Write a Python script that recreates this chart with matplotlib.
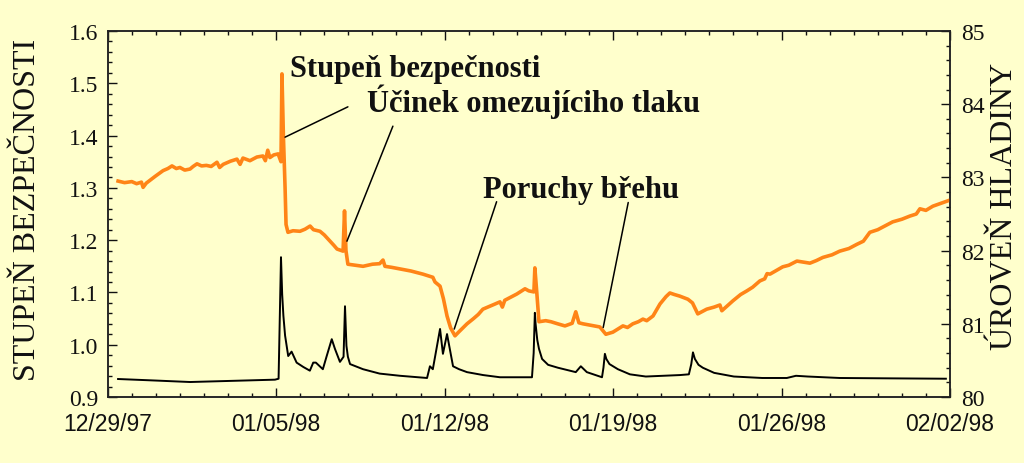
import matplotlib
matplotlib.use("Agg")
import matplotlib.pyplot as plt
import matplotlib.dates as mdates
import matplotlib.transforms as mtransforms
from matplotlib.ticker import MultipleLocator
import pandas as pd

# days counted from 12/29/97
start = pd.Timestamp("1997-12-29")

# stupeň bezpečnosti (left axis)
fs_days = [0.43, 0.70, 1.00, 1.20, 1.40, 1.47, 1.60, 1.97, 2.30, 2.50, 2.67, 2.85, 3.00,
           3.20, 3.42, 3.55, 3.71, 3.90, 4.10, 4.30, 4.54, 4.65, 4.80, 5.10, 5.37, 5.50,
           5.62, 5.91, 6.20, 6.45, 6.55, 6.65, 6.74, 6.90, 7.08, 7.20, 7.24, 7.30, 7.37,
           7.41, 7.49, 7.70, 7.99, 8.20, 8.41, 8.55, 8.82, 9.00, 9.24, 9.40, 9.53, 9.78,
           9.84, 9.90, 9.98, 10.30, 10.61, 11.00, 11.30, 11.44, 11.52, 11.80, 12.15, 12.40,
           12.60, 12.85, 13.10, 13.30, 13.51, 13.60, 13.68, 13.81, 13.95, 14.10, 14.25,
           14.43, 14.60, 14.93, 15.20, 15.40, 15.59, 15.90, 16.10, 16.30, 16.40, 16.50,
           16.71, 17.00, 17.34, 17.50, 17.71, 17.75, 17.83, 17.92, 18.20, 18.42, 18.70,
           19.00, 19.30, 19.45, 19.58, 19.75, 20.10, 20.45, 20.70, 20.99, 21.20, 21.41,
           21.60, 21.82, 22.05, 22.24, 22.40, 22.66, 22.95, 23.20, 23.36, 23.55, 23.77,
           24.11, 24.30, 24.52, 24.89, 25.20, 25.44, 25.52, 25.98, 26.30, 26.56, 26.80,
           27.10, 27.30, 27.40, 27.52, 28.05, 28.30, 28.64, 28.90, 29.18, 29.45, 29.72,
           30.10, 30.42, 30.80, 31.13, 31.40, 31.67, 32.00, 32.21, 32.62, 33.00, 33.33,
           33.60, 33.75, 34.00, 34.29, 34.60, 34.96]
fs_vals = [1.313, 1.310, 1.312, 1.308, 1.311, 1.301, 1.309, 1.322, 1.333, 1.337, 1.342,
           1.337, 1.339, 1.334, 1.336, 1.341, 1.346, 1.342, 1.343, 1.341, 1.349, 1.339,
           1.345, 1.351, 1.355, 1.345, 1.357, 1.352, 1.359, 1.361, 1.352, 1.372, 1.358,
           1.363, 1.365, 1.350, 1.518, 1.400, 1.300, 1.230, 1.215, 1.218, 1.217, 1.221,
           1.227, 1.220, 1.217, 1.210, 1.198, 1.190, 1.183, 1.179, 1.256, 1.180, 1.154,
           1.152, 1.150, 1.154, 1.155, 1.162, 1.150, 1.148, 1.145, 1.143, 1.141, 1.138,
           1.135, 1.132, 1.129, 1.120, 1.117, 1.112, 1.088, 1.055, 1.032, 1.017, 1.025,
           1.040, 1.050, 1.058, 1.068, 1.074, 1.078, 1.082, 1.072, 1.085, 1.090, 1.097,
           1.107, 1.103, 1.101, 1.147, 1.100, 1.044, 1.046, 1.044, 1.040, 1.036, 1.041,
           1.063, 1.042, 1.040, 1.037, 1.034, 1.020, 1.024, 1.030, 1.036, 1.033, 1.040,
           1.044, 1.049, 1.046, 1.055, 1.078, 1.092, 1.099, 1.096, 1.093, 1.087, 1.080,
           1.059, 1.068, 1.072, 1.076, 1.065, 1.084, 1.096, 1.103, 1.110, 1.122, 1.126,
           1.136, 1.135, 1.149, 1.152, 1.160, 1.158, 1.156, 1.161, 1.167, 1.172, 1.179,
           1.184, 1.192, 1.198, 1.215, 1.220, 1.225, 1.235, 1.240, 1.246, 1.250, 1.260,
           1.257, 1.265, 1.270, 1.276]

# úroveň hladiny (right axis)
wl_days = [0.43, 2.00, 3.42, 5.08, 6.95, 7.10, 7.20, 7.25, 7.30, 7.37, 7.50, 7.64, 7.85,
           8.13, 8.40, 8.54, 8.65, 8.94, 9.10, 9.31, 9.44, 9.65, 9.80, 9.86, 9.92, 9.98,
           10.07, 10.61, 11.30, 12.15, 13.27, 13.39, 13.51, 13.81, 13.93, 14.10, 14.35,
           14.60, 14.93, 15.60, 16.30, 17.63, 17.70, 17.75, 17.78, 17.85, 17.92, 18.05,
           18.30, 18.71, 19.45, 19.66, 19.91, 20.54, 20.60, 20.66, 20.72, 20.85, 21.20,
           21.70, 22.36, 23.78, 24.15, 24.25, 24.32, 24.40, 24.55, 24.73, 25.20, 26.02,
           27.20, 28.22, 28.60, 29.09, 30.42, 32.50, 34.83]
wl_vals = [80.246, 80.225, 80.205, 80.22, 80.237, 80.25, 81.91, 81.40, 81.11, 80.84,
           80.56, 80.62, 80.47, 80.41, 80.36, 80.47, 80.47, 80.38, 80.56, 80.79, 80.66,
           80.48, 80.55, 81.24, 80.70, 80.55, 80.45, 80.38, 80.32, 80.29, 80.26, 80.42,
           80.38, 80.93, 80.59, 80.86, 80.42, 80.38, 80.34, 80.30, 80.27, 80.27, 80.60,
           81.15, 81.00, 80.78, 80.66, 80.52, 80.44, 80.40, 80.34, 80.42, 80.34, 80.27,
           80.40, 80.59, 80.52, 80.45, 80.38, 80.31, 80.28, 80.30, 80.31, 80.45, 80.61,
           80.52, 80.44, 80.40, 80.33, 80.28, 80.26, 80.26, 80.29, 80.28, 80.26, 80.255,
           80.25]

tick_dates = ["1997-12-29", "1998-01-05", "1998-01-12", "1998-01-19", "1998-01-26", "1998-02-02"]

fs_t = start + pd.to_timedelta(fs_days, unit="D")
wl_t = start + pd.to_timedelta(wl_days, unit="D")
ticks = pd.to_datetime(tick_dates)


def day(d):
    return start + pd.Timedelta(days=d)


bg = "#FFFFCC"
plt.rcParams["font.family"] = ["Liberation Serif", "DejaVu Serif"]

fig = plt.figure(figsize=(10.24, 4.64), dpi=100)
fig.patch.set_facecolor(bg)
ax = fig.add_axes([0.1052, 0.1422, 0.8225, 0.7888])
ax.set_facecolor(bg)
ax2 = ax.twinx()

ax.plot(fs_t, fs_vals, color="#FF8417", lw=2.6, zorder=3)
ax2.plot(wl_t, wl_vals, color="black", lw=1.4)

ax.set_xlim(ticks[0], ticks[-1])
ax.set_ylim(0.9, 1.6)
ax2.set_ylim(80, 85)

ax.set_xticks(ticks)
ax.xaxis.set_minor_locator(mdates.DayLocator())
ax.set_xticklabels([t.strftime("%m/%d/%y") for t in ticks],
                   fontfamily="Liberation Sans", fontsize=16.5)
# labels in the original sit a little left of their ticks
shift = mtransforms.ScaledTranslation(-0.07, 0, fig.dpi_scale_trans)
for lbl in ax.get_xticklabels():
    lbl.set_transform(lbl.get_transform() + shift)
ax.yaxis.set_major_locator(MultipleLocator(0.1))
ax.yaxis.set_minor_locator(MultipleLocator(0.02))
ax.yaxis.set_major_formatter(plt.FuncFormatter(lambda v, _: f"{v:.1f}"))
ax2.yaxis.set_major_locator(MultipleLocator(1))
ax2.yaxis.set_minor_locator(MultipleLocator(0.2))

ax.tick_params(axis="x", which="both", direction="in", top=True, pad=11, colors="#111111")
ax.tick_params(axis="y", which="both", direction="in", pad=7, labelsize=17, colors="#111111")
ax2.tick_params(axis="y", which="both", direction="in", pad=8, labelsize=17, colors="#111111")
for a in (ax, ax2):
    a.tick_params(which="major", length=6.5, width=1)
    a.tick_params(which="minor", length=3.2, width=1)
    for s in a.spines.values():
        s.set_color("#222222")
        s.set_linewidth(1.1)

fig.text(28 / 1024, 1 - 210 / 464, "STUPEŇ BEZPEČNOSTI", rotation=90,
         ha="center", va="center", fontsize=23, color="#111111")
fig.text(1005 / 1024, 1 - 206 / 464, "ÚROVEŇ HLADINY", rotation=90,
         ha="center", va="center", fontsize=23, color="#111111")

txt = dict(fontsize=22, fontweight="bold", color="#111111", va="baseline", zorder=5)
ax.text(day(7.57), 1.514, "Stupeň bezpečnosti", **txt)
ax.text(day(10.77), 1.447, "Účinek omezujíciho tlaku", **txt)
ax.text(day(15.59), 1.2825, "Poruchy břehu", **txt)

line = dict(arrowstyle="-", color="black", lw=1.1, shrinkA=0, shrinkB=0)
ax.annotate("", xy=(day(7.37), 1.397), xytext=(day(9.98), 1.455), arrowprops=line)
ax.annotate("", xy=(day(9.94), 1.198), xytext=(day(11.85), 1.418), arrowprops=line)
ax.annotate("", xy=(day(14.40), 1.030), xytext=(day(16.16), 1.2735), arrowprops=line)
ax.annotate("", xy=(day(20.59), 1.033), xytext=(day(21.63), 1.272), arrowprops=line)

fig.savefig("out.png", dpi=100, facecolor=bg)
